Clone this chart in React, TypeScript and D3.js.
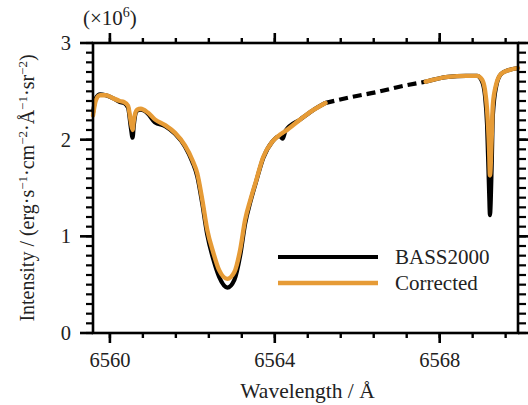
import React from "react";
import * as d3 from "d3";

const wavelengths = [
  6559.59, 6559.66, 6559.76, 6559.9, 6560.07, 6560.24, 6560.34, 6560.44, 6560.51, 6560.55,
  6560.58, 6560.66, 6560.75, 6560.92, 6561.09, 6561.34, 6561.58, 6561.82, 6562.0, 6562.12,
  6562.24, 6562.36, 6562.51, 6562.65, 6562.85, 6563.02, 6563.16, 6563.28, 6563.41, 6563.55,
  6563.72, 6563.94, 6564.12, 6564.19, 6564.26, 6564.62, 6564.91, 6565.23, 6565.85, 6566.45,
  6567.05, 6567.66, 6568.2, 6568.64, 6568.91, 6569.03, 6569.1, 6569.15, 6569.2, 6569.22,
  6569.26, 6569.29, 6569.37, 6569.49, 6569.68, 6569.9,
];

const bass2000 = [
  2.28, 2.43, 2.47, 2.46, 2.43, 2.39, 2.38, 2.33, 2.12, 2.02,
  2.15, 2.3, 2.31, 2.27, 2.18, 2.14, 2.06, 1.93, 1.77, 1.62,
  1.34, 1.02, 0.76, 0.58, 0.47, 0.55, 0.8, 1.13, 1.36, 1.57,
  1.81, 1.98, 2.04, 2.01, 2.09, 2.21, 2.3, 2.38, 2.44, 2.49,
  2.55, 2.6, 2.65, 2.66, 2.66, 2.6, 2.45, 2.15, 1.45, 1.22,
  1.7, 2.25, 2.55, 2.68, 2.72, 2.74,
];

const corrected: (number | null)[] = [
  2.25, 2.41, 2.46, 2.46, 2.43, 2.4, 2.39, 2.35, 2.18, 2.1,
  2.2, 2.31, 2.32, 2.28, 2.21, 2.15, 2.07, 1.94, 1.79, 1.65,
  1.38, 1.07, 0.83, 0.65, 0.56, 0.63, 0.86, 1.17, 1.38, 1.58,
  1.82, 1.98, 2.05, 2.07, 2.09, 2.21, 2.3, 2.38, null, null,
  null, 2.6, 2.65, 2.66, 2.66, 2.62, 2.51, 2.31, 1.89, 1.63,
  2.0, 2.36, 2.57, 2.68, 2.72, 2.74,
];

const gapRange = [6565.23, 6567.66];
const xMajorTicks = [6560, 6564, 6568];
const yMajorTicks = [0, 1, 2, 3];
const seriesNames = ["BASS2000", "Corrected"];

const ORANGE = "#E69B36";
const FONT = "Liberation Serif, Times New Roman, DejaVu Serif, serif";

export default function App() {
  const W = 528, H = 405;
  const L = 93, R = 518, T = 43, B = 333;
  const x = d3.scaleLinear().domain([6559.59, 6569.9]).range([L, R]);
  const y = d3.scaleLinear().domain([0, 3]).range([B, T]);

  const xMinor = d3.range(0, 13).map((i) => 6560 + i * 0.8).filter((v) => v <= 6569.9);
  const yMinor = d3.range(0, 31).map((i) => i * 0.1);

  type P = { w: number; v: number | null };
  const line = d3
    .line<P>()
    .defined((d) => d.v != null)
    .x((d) => x(d.w))
    .y((d) => y(d.v as number))
    .curve(d3.curveMonotoneX);

  const black: P[] = wavelengths.map((w, i) => ({ w, v: bass2000[i] }));
  const orange: P[] = wavelengths.map((w, i) => ({ w, v: corrected[i] }));
  const blackA = black.filter((d) => d.w <= gapRange[0]);
  const blackGap = black.filter((d) => d.w >= gapRange[0] && d.w <= gapRange[1]);
  const blackB = black.filter((d) => d.w >= gapRange[1]);

  const ts = { fontFamily: FONT, fill: "#222" } as React.CSSProperties;
  const axisStroke = 2.6;

  const yLabelParts: [string, boolean][] = [
    ["Intensity / (erg·s", false],
    ["−1", true],
    ["·cm", false],
    ["−2", true],
    ["·Å", false],
    ["−1", true],
    ["·sr", false],
    ["−2", true],
    [")", false],
  ];

  return (
    <svg
      width={W}
      height={H}
      style={{ position: "absolute", left: 0, top: 0, background: "#fff", fontFamily: FONT }}
    >
      <rect x={0} y={0} width={W} height={H} fill="#fff" />

      {/* series */}
      <path d={line(blackA) || ""} fill="none" stroke="#000" strokeWidth={4.2} strokeLinejoin="round" />
      <path d={line(blackB) || ""} fill="none" stroke="#000" strokeWidth={4.2} strokeLinejoin="round" />
      <path d={line(blackGap) || ""} fill="none" stroke="#000" strokeWidth={4.2} strokeDasharray="9,5" />
      <path d={line(orange) || ""} fill="none" stroke={ORANGE} strokeWidth={4.4} strokeLinejoin="round" strokeLinecap="round" />

      {/* frame */}
      <rect x={L} y={T} width={R - L} height={B - T} fill="none" stroke="#000" strokeWidth={axisStroke} />

      {/* x ticks */}
      {xMinor.map((v) => (
        <g key={"xm" + v}>
          <line x1={x(v)} x2={x(v)} y1={B} y2={B + 5} stroke="#000" strokeWidth={2.4} />
          <line x1={x(v)} x2={x(v)} y1={T} y2={T - 5} stroke="#000" strokeWidth={2.4} />
        </g>
      ))}
      {xMajorTicks.map((v) => (
        <g key={"xM" + v}>
          <line x1={x(v)} x2={x(v)} y1={B} y2={B + 10} stroke="#000" strokeWidth={2.6} />
          <line x1={x(v)} x2={x(v)} y1={T} y2={T - 10} stroke="#000" strokeWidth={2.6} />
          <text x={x(v)} y={B + 34} textAnchor="middle" fontSize={20.5} style={ts}>
            {v}
          </text>
        </g>
      ))}

      {/* y ticks */}
      {yMinor.map((v) => (
        <g key={"ym" + v}>
          <line x1={L} x2={L - 7} y1={y(v)} y2={y(v)} stroke="#000" strokeWidth={2.2} />
          <line x1={R} x2={R + 8} y1={y(v)} y2={y(v)} stroke="#000" strokeWidth={2.2} />
        </g>
      ))}
      {yMajorTicks.map((v) => (
        <g key={"yM" + v}>
          <line x1={L} x2={L - 13} y1={y(v)} y2={y(v)} stroke="#000" strokeWidth={2.6} />
          <line x1={R} x2={R + 12} y1={y(v)} y2={y(v)} stroke="#000" strokeWidth={2.6} />
          <text x={71} y={y(v) + 7} textAnchor="end" fontSize={20.5} style={ts}>
            {v}
          </text>
        </g>
      ))}

      {/* multiplier */}
      <text x={83} y={25} fontSize={21} style={ts}>
        <tspan>(×10</tspan>
        <tspan dy={-8} fontSize={14}>6</tspan>
        <tspan dy={8}>)</tspan>
      </text>

      {/* axis titles */}
      <text x={(L + R) / 2 + 2} y={398} textAnchor="middle" fontSize={21.5} style={ts}>
        Wavelength / Å
      </text>
      <text
        transform={`translate(34, 188) rotate(-90)`}
        textAnchor="middle"
        fontSize={20}
        style={ts}
      >
        {yLabelParts.map(([s, isSup], i) => {
          const prevSup = i > 0 && yLabelParts[i - 1][1];
          const dy = isSup ? -7 : prevSup ? 7 : 0;
          return (
            <tspan key={i} dy={dy} fontSize={isSup ? 13 : 20}>
              {s}
            </tspan>
          );
        })}
      </text>

      {/* legend */}
      <line x1={278} x2={378} y1={257} y2={257} stroke="#000" strokeWidth={4.2} />
      <line x1={278} x2={378} y1={283} y2={283} stroke={ORANGE} strokeWidth={4.4} />
      <text x={395} y={264} fontSize={21} style={ts}>{seriesNames[0]}</text>
      <text x={395} y={290} fontSize={21} style={ts}>{seriesNames[1]}</text>
    </svg>
  );
}
